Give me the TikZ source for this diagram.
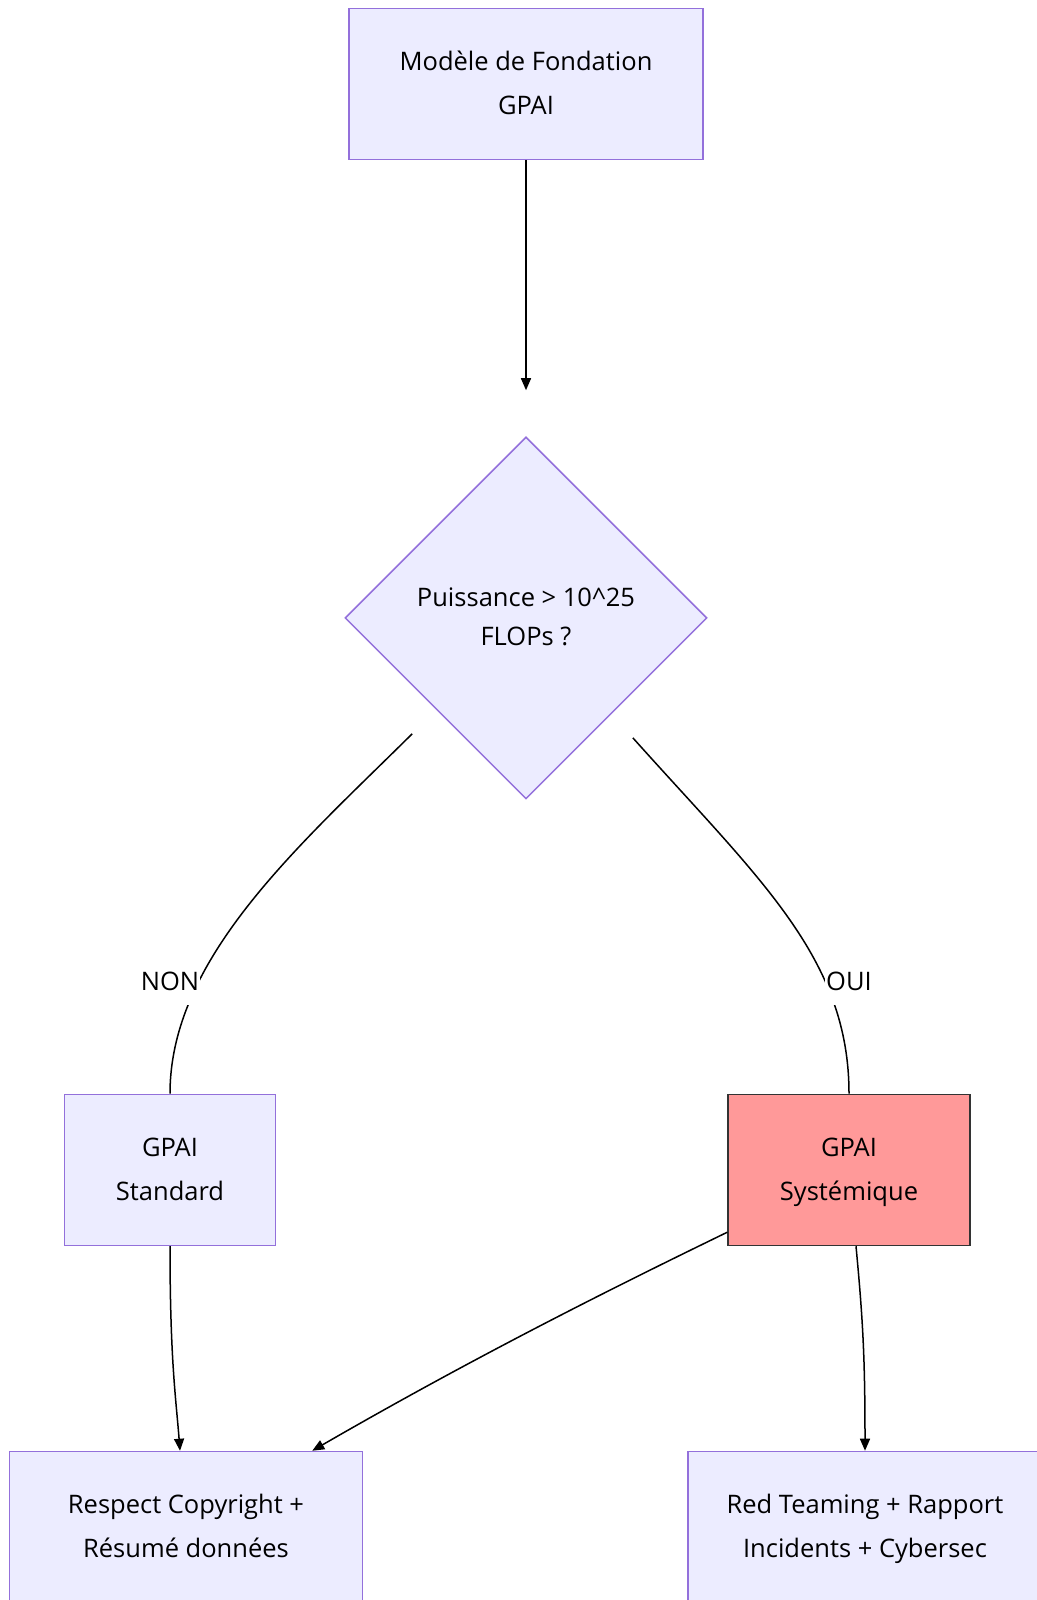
\documentclass[tikz,border=0pt]{standalone}
\usepackage{fontspec}
\setmainfont{Open Sans}
\usepackage{tikz}
\usetikzlibrary{shapes.geometric,arrows.meta}
\definecolor{boxfill}{HTML}{ECECFF}
\definecolor{boxline}{HTML}{9370DB}
\definecolor{hotfill}{HTML}{FF9999}
\definecolor{hotline}{HTML}{333333}
\tikzset{
    block/.style={
           rectangle,
           draw=boxline, fill=boxfill,
           line width=1.5pt,
           minimum height=151pt,
           inner sep=0pt,
           text centered,
           font=\fontsize{25.5}{44}\selectfont
           },
    hot/.style={
           block,
           draw=hotline, fill=hotfill
           },
    choice/.style={
           diamond, aspect=1,
           draw=boxline, fill=boxfill,
           line width=1.5pt,
           minimum size=362pt,
           inner sep=0pt,
           text centered,
           font=\fontsize{25.5}{39}\selectfont
           },
    answer/.style={
           fill=white,
           inner xsep=1pt, inner ysep=0pt,
           minimum height=46pt,
           font=\fontsize{25.5}{30}\selectfont
           },
}
\begin{document}
\begin{tikzpicture}[x=1pt,y=1pt,>={Triangle[length=12pt,width=10pt]},line width=1.5pt]
            \useasboundingbox (0,0) rectangle (1036,1600);

             \node[block, minimum width=354pt] (model) at (526,1516)
             {\begin{tabular}{c}
              Modèle de Fondation\\
              GPAI
              \end{tabular}};

             \node[choice,
              node distance=534pt,
              below of=model,
              anchor=center] (power)
             {\begin{tabular}{c}
              Puissance > 10\textasciicircum25\\
              FLOPs ?
              \end{tabular}};

             \node[block, minimum width=211pt,
              node distance=552pt,
              below of=power, xshift=-356pt,
              anchor=center] (std)
             {\begin{tabular}{c}
              GPAI\\
              Standard
              \end{tabular}};

             \node[hot, minimum width=242pt,
              node distance=552pt,
              below of=power, xshift=323pt,
              anchor=center] (sys)
             {\begin{tabular}{c}
              GPAI\\
              Systémique
              \end{tabular}};

             \node[block, minimum width=353pt,
              node distance=357pt,
              below of=std, xshift=16pt,
              anchor=center] (copyright)
             {\begin{tabular}{c}
              Respect Copyright +\\
              Résumé données
              \end{tabular}};

             \node[block, minimum width=354pt,
              node distance=357pt,
              below of=sys, xshift=16pt,
              anchor=center] (redteam)
             {\begin{tabular}{c}
              Red Teaming + Rapport\\
              Incidents + Cybersec
              \end{tabular}};

             % connectors
             \draw[->] (model) -- ([yshift=46pt]power.north);
             \draw ([shift={(-23,-25)}]power.south west)
                .. controls +(-113,-112) and +(0,136) .. (std.north);
             \draw ([shift={(16,-29)}]power.south east)
                .. controls +(127,-142) and +(0,136) .. (sys.north);
             \draw[->] (std.south)
                .. controls +(0,-114) and +(-4,52) .. ([xshift=-6pt]copyright.north);
             \draw[->] ([yshift=14pt]sys.south west)
                .. controls +(-109,-53) and +(168,97) .. ([xshift=-51pt]copyright.north east);
             \draw[->] ([xshift=7pt]sys.south)
                .. controls +(7,-74) and +(0,92) .. (redteam.north);

             % labels on the two answers
             \node[answer] (non) at ([yshift=112pt]std.north) {NON};
             \node[answer] (oui) at ([yshift=112pt]sys.north) {OUI};

\end{tikzpicture}
\end{document}
